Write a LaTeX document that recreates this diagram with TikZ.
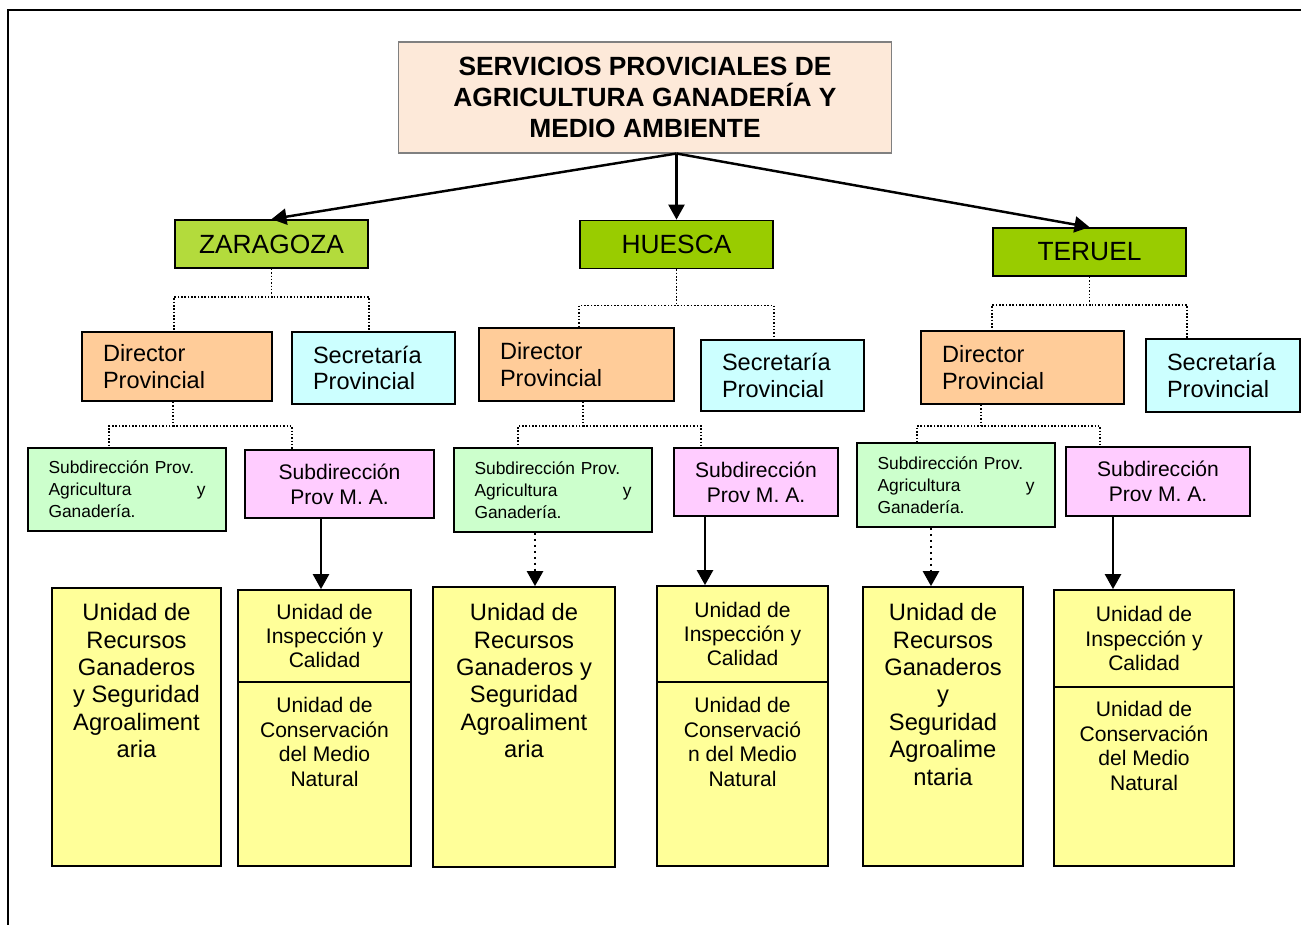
\documentclass[tikz,border=0pt]{standalone}
\usepackage{fontspec}
\setmainfont{Liberation Sans}
\usetikzlibrary{arrows.meta,positioning}
\definecolor{titlefill}{HTML}{FDE9D9}
\definecolor{zarfill}{HTML}{B3DB3C}
\definecolor{provfill}{HTML}{99CC00}
\definecolor{dirfill}{HTML}{FFCC99}
\definecolor{secfill}{HTML}{CCFFFF}
\definecolor{agrfill}{HTML}{CCFFCC}
\definecolor{mafill}{HTML}{FFCCFF}
\definecolor{unitfill}{HTML}{FFFF99}

\begin{document}
\begin{tikzpicture}[
   box/.style={draw,line width=1pt,inner sep=0pt},
   title/.style={box,draw=gray,line width=0.6pt,fill=titlefill,align=center,
     font=\bfseries\fontsize{15}{17.6}\selectfont,minimum width=9.88cm,minimum height=2.22cm},
   prov/.style={box,fill=provfill,minimum width=3.86cm,minimum height=0.96cm,
     font=\fontsize{15}{18}\selectfont},
   dir/.style={box,fill=dirfill,align=left,font=\fontsize{13.4}{15.3}\selectfont},
   sec/.style={box,fill=secfill,align=left,text width=2.42cm,font=\fontsize{13.4}{15.3}\selectfont},
   agr/.style={box,fill=agrfill,align=left,minimum width=3.96cm,text width=3.14cm,
     minimum height=1.66cm,font=\fontsize{9.9}{12.5}\selectfont},
   ma/.style={box,fill=mafill,align=center,minimum height=1.36cm,font=\fontsize{12}{14.2}\selectfont},
   unit/.style={box,fill=unitfill},
   rectext/.style={inner sep=0pt,align=center,font=\fontsize{13.5}{15.6}\selectfont},
   instext/.style={inner sep=0pt,align=center,font=\fontsize{12}{13.9}\selectfont},
   link/.style={densely dotted,line width=0.9pt},
   arr/.style={line width=1.4pt,-{Triangle[length=0.3cm,width=0.32cm]}},
   dotarr/.style={arr,dotted}]
  \begin{scope}[x=0.02cm,y=-0.02cm]
   \useasboundingbox (0,0) rectangle (1301,925);
   \draw[line width=1.1pt] (1301,10) -- (8,10) -- (8,925);

   \node[title] (serv) at (645,97.5) {SERVICIOS PROVICIALES DE\\AGRICULTURA GANADERÍA Y\\MEDIO AMBIENTE};

   \node[prov,fill=zarfill] (zar) at (271.5,244) {ZARAGOZA};
   \node[prov] (hue) at (676.5,244.5) {HUESCA};
   \node[prov] (ter) at (1089.5,252) {TERUEL};

   \node[dir,minimum width=3.8cm,minimum height=1.38cm,text width=2.96cm] (zdir) at (177,366.5) {Director\\Provincial};
   \node[sec,minimum width=3.26cm,minimum height=1.44cm] (zsec) at (373.5,368) {Secretaría\\Provincial};
   \node[agr] (zagr) at (127,489.5) {Subdirección Prov.\\Agricultura\hskip 0pt plus 1fill y\\Ganadería.};
   \node[ma,minimum width=3.78cm] (zma) at (339.5,484) {Subdirección\\Prov M. A.};
   \node[unit,minimum width=3.38cm,minimum height=5.56cm] (zrec) at (136.5,727) {};
   \node[rectext,below=0.32cm of zrec.north] (zrec-t) {Unidad de\\Recursos\\Ganaderos\\y Seguridad\\Agroaliment\\aria};
   \node[unit,instext,minimum width=3.46cm,minimum height=1.84cm] (zins) at (324.5,636) {Unidad de\\Inspección y\\Calidad};
   \node[unit,minimum width=3.46cm,minimum height=3.68cm] (zcon) at (324.5,774) {};
   \node[instext,below=0.32cm of zcon.north] (zcon-t) {Unidad de\\Conservación\\del Medio\\Natural};

   \node[dir,minimum width=3.9cm,minimum height=1.46cm,text width=3.06cm] (hdir) at (576.5,364.5) {Director\\Provincial};
   \node[sec,minimum width=3.26cm,minimum height=1.42cm] (hsec) at (782.5,375.5) {Secretaría\\Provincial};
   \node[agr,minimum height=1.68cm] (hagr) at (553,490) {Subdirección Prov.\\Agricultura\hskip 0pt plus 1fill y\\Ganadería.};
   \node[ma,minimum width=3.28cm] (hma) at (756,482) {Subdirección\\Prov M. A.};
   \node[unit,minimum width=3.64cm,minimum height=5.6cm] (hrec) at (524,727) {};
   \node[rectext,below=0.34cm of hrec.north] (hrec-t) {Unidad de\\Recursos\\Ganaderos y\\Seguridad\\Agroaliment\\aria};
   \node[unit,instext,minimum width=3.42cm,minimum height=1.92cm] (hins) at (742.5,634) {Unidad de\\Inspección y\\Calidad};
   \node[unit,minimum width=3.42cm,minimum height=3.68cm] (hcon) at (742.5,774) {};
   \node[instext,below=0.32cm of hcon.north] (hcon-t) {Unidad de\\Conservació\\n del Medio\\Natural};

   \node[dir,minimum width=4.06cm,minimum height=1.46cm,text width=3.22cm] (tdir) at (1022.5,367.5) {Director\\Provincial};
   \node[sec,minimum width=3.08cm,minimum height=1.46cm,text width=2.24cm] (tsec) at (1223,375.5) {Secretaría\\Provincial};
   \node[agr,minimum height=1.68cm] (tagr) at (956,485) {Subdirección Prov.\\Agricultura\hskip 0pt plus 1fill y\\Ganadería.};
   \node[ma,minimum width=3.68cm,minimum height=1.38cm] (tma) at (1158,481.5) {Subdirección\\Prov M. A.};
   \node[unit,minimum width=3.2cm,minimum height=5.58cm] (trec) at (943,726.5) {};
   \node[rectext,below=0.34cm of trec.north] (trec-t) {Unidad de\\Recursos\\Ganaderos\\y\\Seguridad\\Agroalime\\ntaria};
   \node[unit,instext,minimum width=3.6cm,minimum height=1.94cm] (tins) at (1144,638.5) {Unidad de\\Inspección y\\Calidad};
   \node[unit,minimum width=3.6cm,minimum height=3.58cm] (tcon) at (1144,776.5) {};
   \node[instext,below=0.3cm of tcon.north] (tcon-t) {Unidad de\\Conservación\\del Medio\\Natural};

   \draw[arr] (hue.north |- serv.south) -- (zar.north);
   \draw[arr] (hue.north |- serv.south) -- (hue.north);
   \draw[arr] (hue.north |- serv.south) -- (ter.north);

   \draw[link] (zar.south) -- ++(0,28) -| (zar.west |- zdir.north);
   \draw[link] (zar.south) -- ++(0,28) -| (zar.east |- zsec.north);
   \draw[link] (hue.south) -- ++(0,36) -| (hue.west |- hdir.north);
   \draw[link] (hue.south) -- ++(0,36) -| (hue.east |- hsec.north);
   \draw[link] (ter.south) -- ++(0,28) -| (ter.west |- tdir.north);
   \draw[link] (ter.south) -- ++(0,28) -| (ter.east |- tsec.north);

   \coordinate (zj) at (173,426);
   \coordinate (hj) at (583,426);
   \coordinate (tj) at (981,426);
   \draw[link] (zj |- zdir.south) -- (zj) -| (109,0 |- zagr.north);
   \draw[link] (zj) -| (292,0 |- zma.north);
   \draw[link] (hj |- hdir.south) -- (hj) -| (518,0 |- hagr.north);
   \draw[link] (hj) -| (701,0 |- hma.north);
   \draw[link] (tj |- tdir.south) -- (tj) -| (917,0 |- tagr.north);
   \draw[link] (tj) -| (1100,0 |- tma.north);

   \draw[arr] (321,0 |- zma.south) -- (321,0 |- zins.north);
   \draw[dotarr] (535,0 |- hagr.south) -- (535,0 |- hrec.north);
   \draw[arr] (705,0 |- hma.south) -- (705,0 |- hins.north);
   \draw[dotarr] (931,0 |- tagr.south) -- (931,0 |- trec.north);
   \draw[arr] (1113,0 |- tma.south) -- (1113,0 |- tins.north);
  \end{scope}
\end{tikzpicture}
\end{document}
